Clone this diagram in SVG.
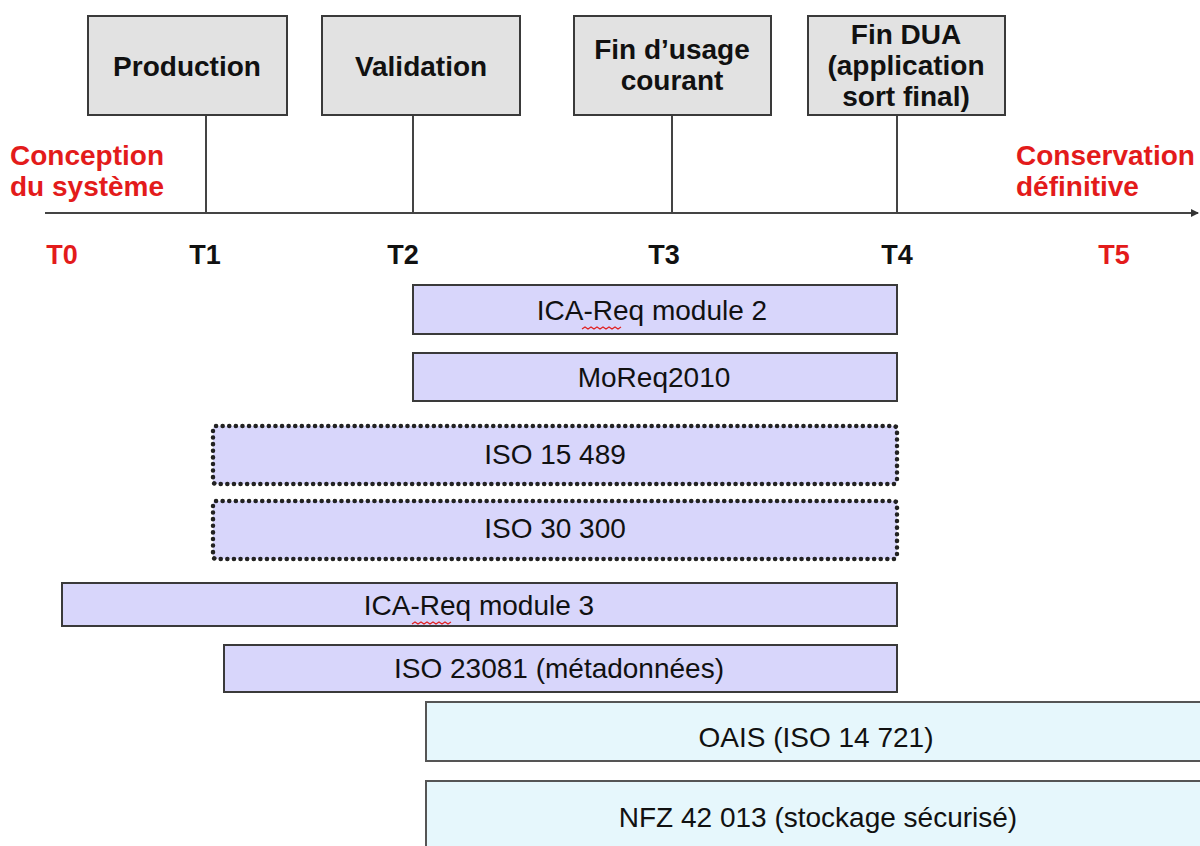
<svg xmlns="http://www.w3.org/2000/svg" width="1200" height="846" viewBox="0 0 1200 846">
<style>
.box{fill:#e2e2e2;stroke:#3a3a3a;stroke-width:2}
.bar{fill:#d8d6fb;stroke:#3a3a3a;stroke-width:2}
.dot{fill:#d8d6fb;stroke:#222;stroke-width:4.5;stroke-dasharray:0.1 6.5;stroke-linecap:round}
.cyan{fill:#e6f7fc;stroke:#555;stroke-width:2}
.hd{font-family:"Liberation Sans",Arial,sans-serif;font-weight:bold;font-size:28px;fill:#111;text-anchor:middle}
.red{font-family:"Liberation Sans",Arial,sans-serif;font-weight:bold;font-size:28px;fill:#e31b1b}
.t{font-family:"Liberation Sans",Arial,sans-serif;font-weight:bold;font-size:27px;fill:#111;text-anchor:middle}
.tr{fill:#e31b1b}
.lb{font-family:"Liberation Sans",Arial,sans-serif;font-size:28px;fill:#111;text-anchor:middle}
.conn{stroke:#444;stroke-width:2;fill:none}
.sq{stroke:#e02020;stroke-width:1.2;fill:none}
</style>
<defs>
<marker id="arr" markerWidth="8" markerHeight="8" refX="7" refY="4" orient="auto" markerUnits="userSpaceOnUse">
<path d="M0,0 L8,4 L0,8 Z" fill="#333"/>
</marker>
</defs>
<rect width="1200" height="846" fill="#fff"/>
<g id="connectors">
<line class="conn" x1="45" y1="213" x2="1198" y2="213" marker-end="url(#arr)"/>
<line class="conn" x1="206" y1="115" x2="206" y2="213"/>
<line class="conn" x1="413" y1="115" x2="413" y2="213"/>
<line class="conn" x1="672" y1="115" x2="672" y2="213"/>
<line class="conn" x1="897" y1="115" x2="897" y2="213"/>
</g>
<g id="production"><rect class="box" x="88" y="16" width="199" height="99"/><text class="hd" x="187" y="76">Production</text></g>
<g id="validation"><rect class="box" x="322" y="16" width="198" height="99"/><text class="hd" x="421" y="76">Validation</text></g>
<g id="fin-usage"><rect class="box" x="574" y="16" width="197" height="99"/><text class="hd" x="672" y="59">Fin d’usage</text><text class="hd" x="672" y="90">courant</text></g>
<g id="fin-dua"><rect class="box" x="808" y="16" width="197" height="99"/><text class="hd" x="906" y="44">Fin DUA</text><text class="hd" x="906" y="75">(application</text><text class="hd" x="906" y="106">sort final)</text></g>
<g id="conception"><text class="red" x="10" y="165">Conception</text><text class="red" x="10" y="196">du système</text></g>
<g id="conservation"><text class="red" x="1016" y="165">Conservation</text><text class="red" x="1016" y="196">définitive</text></g>
<g id="ticks">
<text class="t tr" x="62" y="264">T0</text>
<text class="t" x="205" y="264">T1</text>
<text class="t" x="403" y="264">T2</text>
<text class="t" x="664" y="264">T3</text>
<text class="t" x="897" y="264">T4</text>
<text class="t tr" x="1114" y="264">T5</text>
</g>
<g id="ica2"><rect class="bar" x="413" y="285" width="484" height="49"/><text class="lb" x="652" y="320">ICA-Req module 2</text><path class="sq" d="M582,329 l3,-2 3,2 3,-2 3,2 3,-2 3,2 3,-2 3,2 3,-2 3,2 3,-2 3,2 3,-2"/></g>
<g id="moreq"><rect class="bar" x="413" y="353" width="484" height="48"/><text class="lb" x="654" y="387">MoReq2010</text></g>
<g id="iso15489"><rect class="dot" x="213" y="426" width="684" height="58" rx="3"/><text class="lb" x="555" y="464">ISO 15 489</text></g>
<g id="iso30300"><rect class="dot" x="213" y="501" width="684" height="58" rx="3"/><text class="lb" x="555" y="538">ISO 30 300</text></g>
<g id="ica3"><rect class="bar" x="62" y="583" width="835" height="43"/><text class="lb" x="479" y="615">ICA-Req module 3</text><path class="sq" d="M412,624 l3,-2 3,2 3,-2 3,2 3,-2 3,2 3,-2 3,2 3,-2 3,2 3,-2 3,2 3,-2"/></g>
<g id="iso23081"><rect class="bar" x="224" y="645" width="673" height="47"/><text class="lb" x="559" y="678">ISO 23081 (métadonnées)</text></g>
<g id="oais"><rect class="cyan" x="426" y="702" width="790" height="59"/><text class="lb" x="816" y="747">OAIS (ISO 14 721)</text></g>
<g id="nfz"><rect class="cyan" x="426" y="781" width="790" height="80"/><text class="lb" x="818" y="827">NFZ 42 013 (stockage sécurisé)</text></g>
</svg>
